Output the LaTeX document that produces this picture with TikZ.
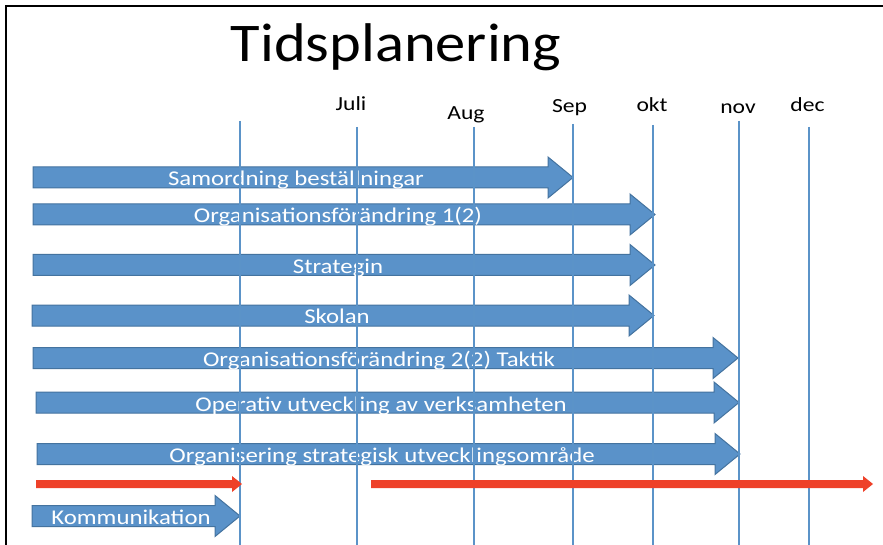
\documentclass[tikz,border=0pt]{standalone}
\usepackage{fontspec}
\setmainfont[FakeStretch=1.18]{Carlito}
\newfontfamily\titlefont[FakeStretch=1.11]{Carlito}
\definecolor{barblue}{HTML}{5A92C9}
\definecolor{baredge}{HTML}{44739F}
\definecolor{gridblue}{HTML}{5B93C8}
\definecolor{redbar}{HTML}{EE4129}
% #1 start x, #2 tip x, #3 centre y
\newcommand\blockarr[3]{%
  \filldraw[barstyle] (#1,#3-10.5) -- (#2-25,#3-10.5) -- (#2-25,#3-20.5) -- (#2,#3)
    -- (#2-25,#3+20.5) -- (#2-25,#3+10.5) -- (#1,#3+10.5) -- cycle;}
\newcommand\redarr[3]{%
  \fill[redbar] (#1,#3-4) -- (#2-10,#3-4) -- (#2-10,#3-8) -- (#2,#3)
    -- (#2-10,#3+8) -- (#2-10,#3+4) -- (#1,#3+4) -- cycle;}
\begin{document}
\begin{tikzpicture}[x=1pt,y=-1pt,
  barstyle/.style={fill=barblue,draw=baredge,line width=1pt},
  lbl/.style={text=white,font=\fontsize{21}{24}\selectfont,inner sep=0pt,anchor=base},
  month/.style={text=black,font=\fontsize{20}{24}\selectfont,inner sep=0pt,anchor=base},
  grid/.style={draw=gridblue,line width=1.6pt}]
\useasboundingbox (0,0) rectangle (883,545);
\fill[white] (0,0) rectangle (883,545);
\draw[line width=2pt] (6,546) -- (6,6) -- (884,6);
\node[inner sep=0pt,anchor=base,font=\titlefont\fontsize{54.5}{60}\selectfont] (title) at (396,62) {Tidsplanering};
% block arrows
\blockarr{33}{573}{177.5}
\blockarr{33}{655}{214.5}
\blockarr{33}{655}{265}
\blockarr{32}{654}{315.5}
\blockarr{33}{738}{358}
\blockarr{36}{739}{402.5}
\blockarr{37}{740}{454}
\blockarr{32}{240}{516}
% labels
\node[lbl] (a1) at (296,186) {Samordning beställningar};
\node[lbl] (a2) at (338,223) {Organisationsförändring 1(2)};
\node[lbl] (a3) at (338,273) {Strategin};
\node[lbl] (a4) at (337,323) {Skolan};
\node[lbl] (a5) at (379,366) {Organisationsförändring 2(2) Taktik};
\node[lbl] (a6) at (381,411) {Operativ utveckling av verksamheten};
\node[lbl] (a7) at (382,462) {Organisering strategisk utvecklingsområde};
\node[lbl] (a8) at (131,524) {Kommunikation};
% month labels
\node[month] (juli) at (351,111) {Juli};
\node[month] (aug) at (466,120) {Aug};
\node[month] (sep) at (569.5,113) {Sep};
\node[month] (okt) at (652,112) {okt};
\node[month] (nov) at (738,114) {nov};
\node[month] (dec) at (807.5,112) {dec};
% grid lines
\draw[grid] (240,121) -- (240,546);
\draw[grid] (357,127) -- (357,546);
\draw[grid] (474,127) -- (474,546);
\draw[grid] (573,124) -- (573,546);
\draw[grid] (653,125) -- (653,546);
\draw[grid] (739,121) -- (739,546);
\draw[grid] (809,127) -- (809,546);
% red arrows
\redarr{36}{242}{484}
\redarr{371}{873}{484}
\end{tikzpicture}
\end{document}
